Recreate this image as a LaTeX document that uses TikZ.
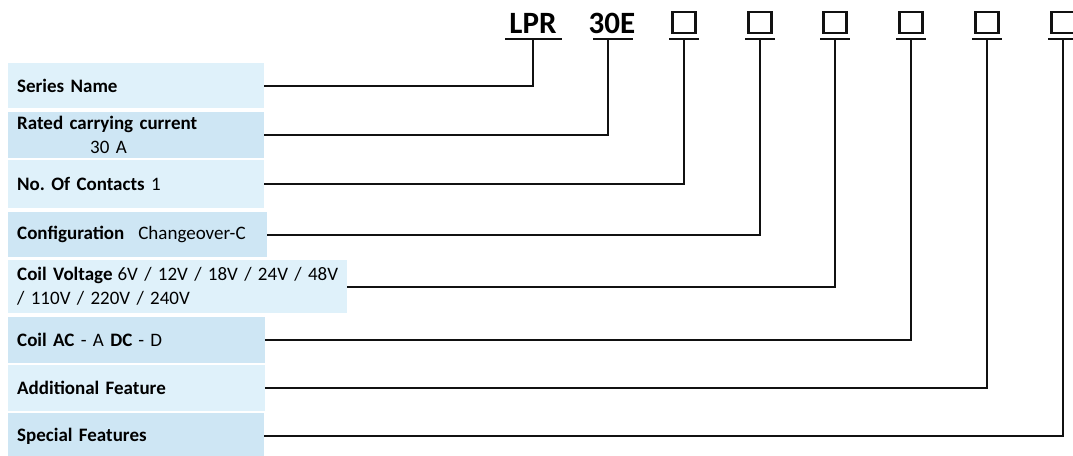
\documentclass[tikz,border=0pt]{standalone}
\usepackage{fontspec}
\setmainfont{Carlito}
\usepackage{xcolor}
\definecolor{paleblue}{HTML}{DFF1FA}
\definecolor{softblue}{HTML}{CEE6F4}
\definecolor{ink}{HTML}{111111}
\usepackage{tikz}
\usetikzlibrary{positioning}
\frenchspacing

\begin{document}
\begin{tikzpicture}[
      x=1pt, y=-1pt,
      field/.style={rectangle, anchor=north west, align=left, inner xsep=9pt, inner ysep=0pt,
                    text width=238pt, font=\fontsize{19}{24}\selectfont},
      light/.style={field, fill=paleblue},
      dark/.style={field, fill=softblue},
      code/.style={anchor=base, inner sep=0pt, font=\fontsize{31}{31}\selectfont\bfseries},
      sq/.style={rectangle, draw=ink, line width=2.2pt, anchor=south, inner sep=0pt,
                 minimum width=23pt, minimum height=21pt},
      uline/.style={draw=ink, line width=1.8pt},
      wire/.style={draw=ink, line width=1.8pt},
    ]
    \useasboundingbox (0,0) rectangle (1073,455);

    % ordering code
    \node[code] (lpr) at (533,33) {LPR};
    \node[code] (e30) at (612,33) {30E};
    \node[sq] (s1) at (684,34) {};
    \node[sq] (s2) at (760,34) {};
    \node[sq] (s3) at (835,34) {};
    \node[sq] (s4) at (911,34) {};
    \node[sq] (s5) at (987,34) {};
    \node[sq] (s6) at (1063,34) {};

    \draw[uline] ([xshift=-28pt,yshift=-6pt]lpr.base) -- ([xshift=29pt,yshift=-6pt]lpr.base);
    \draw[uline] ([xshift=-19pt,yshift=-6pt]e30.base) -- ([xshift=21pt,yshift=-6pt]e30.base);
    \draw[uline] ([xshift=-15pt,yshift=-5pt]s1.south) -- ([xshift=15pt,yshift=-5pt]s1.south);
    \draw[uline] ([xshift=-15pt,yshift=-5pt]s2.south) -- ([xshift=15pt,yshift=-5pt]s2.south);
    \draw[uline] ([xshift=-15pt,yshift=-5pt]s3.south) -- ([xshift=15pt,yshift=-5pt]s3.south);
    \draw[uline] ([xshift=-15pt,yshift=-5pt]s4.south) -- ([xshift=15pt,yshift=-5pt]s4.south);
    \draw[uline] ([xshift=-15pt,yshift=-5pt]s5.south) -- ([xshift=15pt,yshift=-5pt]s5.south);
    \draw[uline] ([xshift=-15pt,yshift=-5pt]s6.south) -- ([xshift=15pt,yshift=-5pt]s6.south);

    % fields
    \node[light, minimum height=45pt] (series) at (8,63) {\textbf{Series Name}};
    \node[dark, minimum height=46pt] (rated) at (8,112) {\textbf{Rated carrying current}\\\hspace*{73pt}30 A};
    \node[light, minimum height=48pt] (contacts) at (8,160) {\textbf{No. Of Contacts} 1};
    \node[dark, minimum height=45pt, text width=241pt] (config) at (8,212) {\textbf{Configuration}\hspace{14pt}Changeover-C};
    \node[light, minimum height=53pt, text width=321pt] (voltage) at (8,260) {\mbox{\textbf{Coil Voltage}\hspace{5pt}6V / 12V / 18V / 24V / 48V}\\/ 110V / 220V / 240V};
    \node[dark, minimum height=46pt, text width=239pt] (coil) at (8,317) {\textbf{Coil AC} - A \textbf{DC}\hspace{6pt}- D};
    \node[light, minimum height=46pt, text width=239pt] (extra) at (8,365) {\textbf{Additional Feature}};
    \node[dark, minimum height=46pt] (special) at (8,413) {\textbf{Special Features}};

    % leaders
    \draw[wire] (series.east) -| ([yshift=-6pt]lpr.base);
    \draw[wire] (rated.east) -| ([xshift=-4pt,yshift=-6pt]e30.base);
    \draw[wire] (contacts.east) -| ([yshift=-5pt]s1.south);
    \draw[wire] (config.east) -| ([yshift=-5pt]s2.south);
    \draw[wire] (voltage.east) -| ([yshift=-5pt]s3.south);
    \draw[wire] (coil.east) -| ([yshift=-5pt]s4.south);
    \draw[wire] (extra.east) -| ([yshift=-5pt]s5.south);
    \draw[wire] (special.east) -| ([yshift=-5pt]s6.south);
  \end{tikzpicture}
\end{document}
